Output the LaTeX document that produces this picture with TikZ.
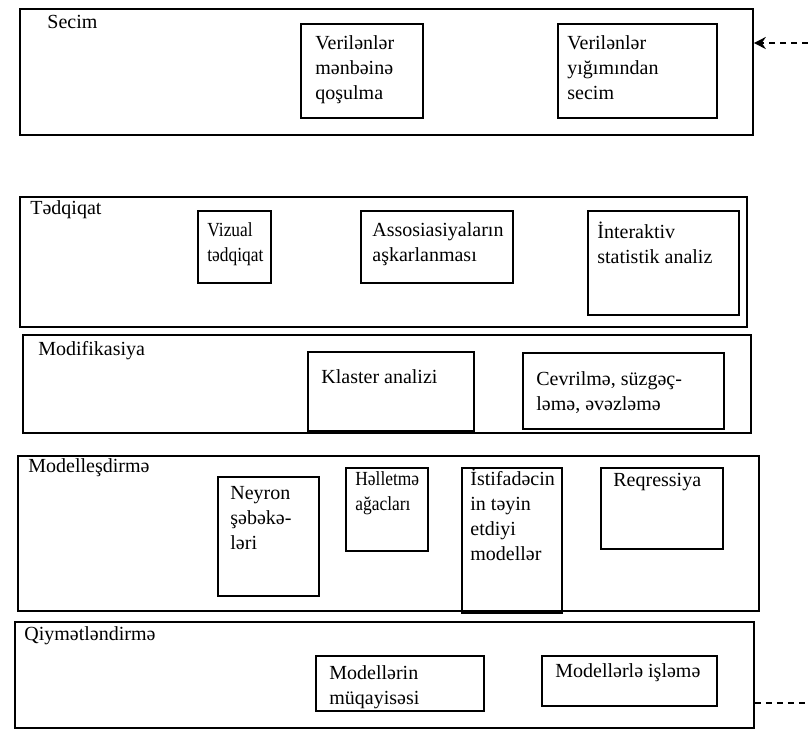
\documentclass[tikz,border=0pt]{standalone}
\usepackage{fontspec}
\setmainfont{Liberation Serif}
\newfontfamily\narrowfont{Liberation Serif}[FakeStretch=0.87]
\usetikzlibrary{arrows.meta,positioning}

\begin{document}
\begin{tikzpicture}[
  x=0.5pt, y=-0.5pt,
  band/.style={rectangle, draw=black, line width=0.9pt, anchor=north west, inner sep=0pt},
  item/.style={rectangle, draw=black, line width=1pt, anchor=north west, inner sep=0pt},
  stage/.style={inner sep=0pt, align=left, font=\fontsize{10}{12}\selectfont},
  txt/.style={inner sep=0pt, align=left, font=\fontsize{10}{12.5}\selectfont},
  narrow/.style={txt, font=\narrowfont\fontsize{10}{12.5}\selectfont},
  flow/.style={-{Stealth[length=6pt,width=6pt]}, line width=0.9pt, dash pattern=on 3pt off 2.5pt}
]
  \useasboundingbox (0,0) rectangle (808,729);

  % Secim
  \node[band, minimum width=366.5pt, minimum height=63pt] (secim) at (19,8) {};
  \node[stage, below right=3.5pt and 14pt of secim.north west] (secimT) {Secim};
  \node[item, minimum width=61pt, minimum height=47pt] (qosul) at (300,23) {};
  \node[txt, below right=6pt and 7.5pt of qosul.north west] (qosulT) {Verilənlər\\mənbəinə\\qoşulma};
  \node[item, minimum width=79.5pt, minimum height=47pt] (yigim) at (557,23) {};
  \node[txt, below right=6pt and 5pt of yigim.north west] (yigimT) {Verilənlər\\yığımından\\secim};

  % Tedqiqat
  \node[band, minimum width=363.5pt, minimum height=65pt] (tedq) at (19,196) {};
  \node[stage, below right=2pt and 5.5pt of tedq.north west] (tedqT) {Tədqiqat};
  \node[item, minimum width=36.5pt, minimum height=36pt] (vizual) at (197,210) {};
  \node[narrow, below right=6pt and 5pt of vizual.north west] (vizualT) {Vizual\\tədqiqat};
  \node[item, minimum width=76pt, minimum height=36pt] (assos) at (360,210) {};
  \node[txt, below right=6pt and 6pt of assos.north west] (assosT) {Assosiasiyaların\\aşkarlanması};
  \node[item, minimum width=75.5pt, minimum height=52pt] (inter) at (587,210) {};
  \node[txt, below right=6pt and 5pt of inter.north west] (interT) {İnteraktiv\\statistik analiz};

  % Modifikasiya
  \node[band, minimum width=364pt, minimum height=49pt] (modif) at (22,334) {};
  \node[stage, below right=3.5pt and 8pt of modif.north west] (modifT) {Modifikasiya};
  \node[item, minimum width=83pt, minimum height=39.5pt] (klaster) at (307,351) {};
  \node[txt, below right=9pt and 7pt of klaster.north west] (klasterT) {Klaster analizi};
  \node[item, minimum width=100.5pt, minimum height=38pt] (cevr) at (522,352) {};
  \node[txt, below right=9.5pt and 7pt of cevr.north west] (cevrT) {Cevrilmə, süzgəç-\\ləmə, əvəzləmə};

  % Modellesdirme
  \node[band, minimum width=370.5pt, minimum height=77.5pt] (model) at (17,455) {};
  \node[stage, below right=1.5pt and 5.5pt of model.north west] (modelT) {Modelleşdirmə};
  \node[item, minimum width=50.5pt, minimum height=59.5pt] (neyron) at (217,476) {};
  \node[txt, below right=5pt and 6.5pt of neyron.north west] (neyronT) {Neyron\\şəbəkə-\\ləri};
  \node[item, minimum width=41pt, minimum height=41.5pt] (hell) at (345,467) {};
  \node[narrow, below right=2pt and 5pt of hell.north west] (hellT) {Həlletmə\\ağacları};
  \node[item, minimum width=50pt, minimum height=72.5pt] (istif) at (461,467) {};
  \node[txt, below right=1pt and 4.5pt of istif.north west] (istifT) {İstifadəcin\\in təyin\\etdiyi\\modellər};
  \node[item, minimum width=61pt, minimum height=40.5pt] (reqr) at (600,467) {};
  \node[txt, below right=3pt and 6.5pt of reqr.north west] (reqrT) {Reqressiya};

  % Qiymetlendirme
  \node[band, minimum width=369.5pt, minimum height=53pt] (qiym) at (14,621) {};
  \node[stage, below right=2.5pt and 5pt of qiym.north west] (qiymT) {Qiymətləndirmə};
  \node[item, minimum width=84pt, minimum height=27.5pt] (muqay) at (315,655) {};
  \node[txt, below right=5pt and 7pt of muqay.north west] (muqayT) {Modellərin\\müqayisəsi};
  \node[item, minimum width=87.5pt, minimum height=25pt] (isle) at (541,655) {};
  \node[txt, below right=4pt and 7pt of isle.north west] (isleT) {Modellərlə işləmə};

  % giris ve cixis
  \coordinate (giris) at (808,43);
  \coordinate (cixis) at (808,703);
  \draw[flow] (giris) -- (secim.east |- giris);
  \draw[line width=0.9pt, dash pattern=on 3pt off 2.5pt] (qiym.east |- cixis) -- (cixis);
\end{tikzpicture}
\end{document}
